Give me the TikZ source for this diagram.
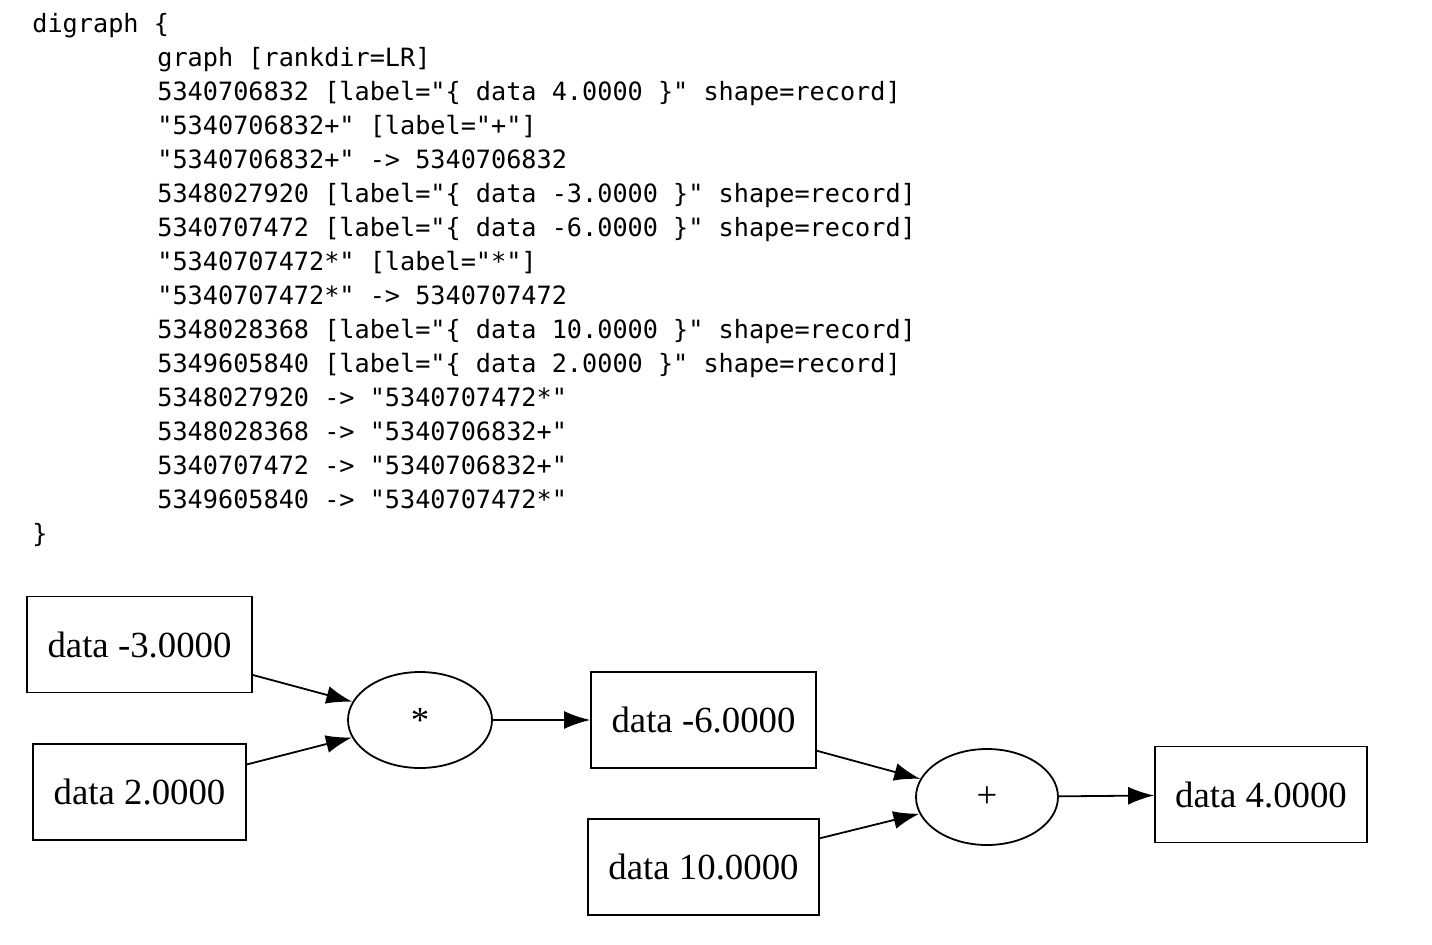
\documentclass[tikz,border=0pt]{standalone}
\usepackage{fontspec}
\setmainfont{Liberation Serif}
\newfontfamily\codefont{DejaVu Sans Mono}
\usetikzlibrary{arrows.meta,shapes.geometric}
\begin{document}
\begin{tikzpicture}[x=0.5pt,y=-0.5pt,
  code/.style={anchor=base west,inner sep=0pt,font=\codefont\fontsize{12.6}{14}\selectfont},
  rec/.style={draw,line width=0.9pt,minimum width=#1,minimum height=48pt,inner sep=0pt,font=\fontsize{18.4}{20}\selectfont},
  op/.style={draw,ellipse,line width=0.9pt,minimum width=72pt,minimum height=48pt,inner sep=0pt,font=\fontsize{18.4}{20}\selectfont},
  edge/.style={line width=0.9pt,-{Latex[length=13pt,width=9pt]}}]
\useasboundingbox (0,0) rectangle (1432,944);
% source text
\node[code] (l0) at (32,32) {digraph \{};
\node[code] (l1) at (157,66) {graph [rankdir=LR]};
\node[code] (l2) at (157,100) {5340706832 [label="\{ data 4.0000 \}" shape=record]};
\node[code] (l3) at (157,134) {"5340706832+" [label="+"]};
\node[code] (l4) at (157,168) {"5340706832+" -> 5340706832};
\node[code] (l5) at (157,202) {5348027920 [label="\{ data -3.0000 \}" shape=record]};
\node[code] (l6) at (157,236) {5340707472 [label="\{ data -6.0000 \}" shape=record]};
\node[code] (l7) at (157,270) {"5340707472*" [label="*"]};
\node[code] (l8) at (157,304) {"5340707472*" -> 5340707472};
\node[code] (l9) at (157,338) {5348028368 [label="\{ data 10.0000 \}" shape=record]};
\node[code] (l10) at (157,372) {5349605840 [label="\{ data 2.0000 \}" shape=record]};
\node[code] (l11) at (157,406) {5348027920 -> "5340707472*"};
\node[code] (l12) at (157,440) {5348028368 -> "5340706832+"};
\node[code] (l13) at (157,474) {5340707472 -> "5340706832+"};
\node[code] (l14) at (157,508) {5349605840 -> "5340707472*"};
\node[code] (l15) at (32,542) {\}};
% graph
\node[rec=112.5pt] (a) at (139.5,644.5) {data -3.0000};
\node[rec=106.5pt] (b) at (139.5,792) {data 2.0000};
\node[op] (mul) at (420,720) {*};
\node[rec=112.5pt] (c) at (703.5,720) {data -6.0000};
\node[rec=115.5pt] (d) at (703.5,867) {data 10.0000};
\node[op,minimum width=71pt] (add) at (987,797) {+};
\node[rec=106pt] (e) at (1261,794.5) {data 4.0000};
\draw[edge] (a) -- (mul);
\draw[edge] (b) -- (mul);
\draw[edge] (mul) -- (c);
\draw[edge] (c) -- (add);
\draw[edge] (d) -- (add);
\draw[edge] (add) -- (e);
\end{tikzpicture}
\end{document}
